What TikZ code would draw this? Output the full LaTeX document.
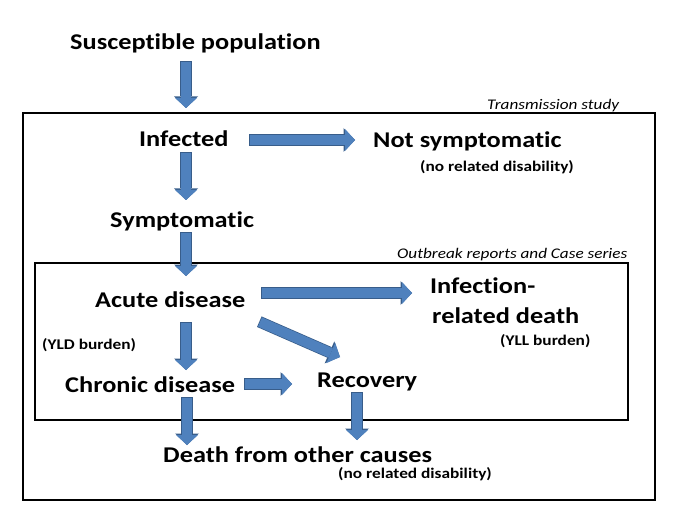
\documentclass[tikz,border=0pt]{standalone}
\usepackage{fontspec}
\setmainfont{Carlito}[FakeStretch=1.17, Ligatures=NoCommon]
\usetikzlibrary{arrows.meta}
\definecolor{arrfill}{HTML}{4F81BD}
\definecolor{arrline}{HTML}{385D8A}
\tikzset{
  big/.style={font=\bfseries\fontsize{22.5}{26}\selectfont, inner sep=0pt, anchor=base west},
  small/.style={font=\bfseries\fontsize{14.8}{17}\selectfont, inner sep=0pt, anchor=base west},
  study/.style={font=\itshape\fontsize{14.7}{17}\selectfont, inner sep=0pt, anchor=base west},
  frame/.style={draw=black, line width=1.4pt},
  blockarrow/.style={draw=arrfill, line width=10pt,
    -{Triangle[length=10pt,width=22pt,line width=0pt]},
    preaction={draw=arrline, line width=11.5pt, shorten <=-0.75pt,
      -{Triangle[length=11.5pt,width=24pt,line width=0pt]}}}
}
\begin{document}
\begin{tikzpicture}[x=1pt,y=-1pt]
\useasboundingbox (0,0) rectangle (685,513);
% frames
\draw[frame] (23,113) rectangle (655,500);
\draw[frame] (35,263) rectangle (628,420);
% study labels
\node[study] (ts) at (487,110) {Transmission study};
\node[study] (ob) at (397,258) {Outbreak reports and Case series};
% main labels
\node[big] (sus) at (70,50) {Susceptible population};
\node[big] (inf) at (139,147) {Infected};
\node[big] (ns) at (373,148) {Not symptomatic};
\node[small] (nrd1) at (420,172) {(no related disability)};
\node[big] (sym) at (110,227) {Symptomatic};
\node[big] (acu) at (95,307) {Acute disease};
\node[big] (ird1) at (430,293) {Infection-};
\node[big] (ird2) at (432,323) {related death};
\node[small] (yll) at (500,345) {(YLL burden)};
\node[small] (yld) at (42,349) {(YLD burden)};
\node[big] (chr) at (65,392) {Chronic disease};
\node[big] (rec) at (317,387) {Recovery};
\node[big] (dth) at (163,462) {Death from other causes};
\node[small] (nrd2) at (338,478) {(no related disability)};
% arrow end points
\coordinate (a1s) at (186,62);  \coordinate (a1e) at (186,108);
\coordinate (a2s) at (250,140); \coordinate (a2e) at (355,140);
\coordinate (a3s) at (186,153); \coordinate (a3e) at (186,200);
\coordinate (a4s) at (186,233); \coordinate (a4e) at (186,276);
\coordinate (a5s) at (262,293); \coordinate (a5e) at (412,293);
\coordinate (a6s) at (260,322); \coordinate (a6e) at (340,357);
\coordinate (a7s) at (186,323); \coordinate (a7e) at (186,370);
\coordinate (a8s) at (245,384); \coordinate (a8e) at (292,384);
\coordinate (a9s) at (187,398); \coordinate (a9e) at (187,445);
\coordinate (a10s) at (357,393); \coordinate (a10e) at (357,440);
% arrows
\draw[blockarrow] (a1s) -- (a1e);
\draw[blockarrow] (a2s) -- (a2e);
\draw[blockarrow] (a3s) -- (a3e);
\draw[blockarrow] (a4s) -- (a4e);
\draw[blockarrow] (a5s) -- (a5e);
\draw[blockarrow] (a6s) -- (a6e);
\draw[blockarrow] (a7s) -- (a7e);
\draw[blockarrow] (a8s) -- (a8e);
\draw[blockarrow] (a9s) -- (a9e);
\draw[blockarrow] (a10s) -- (a10e);
\end{tikzpicture}
\end{document}
